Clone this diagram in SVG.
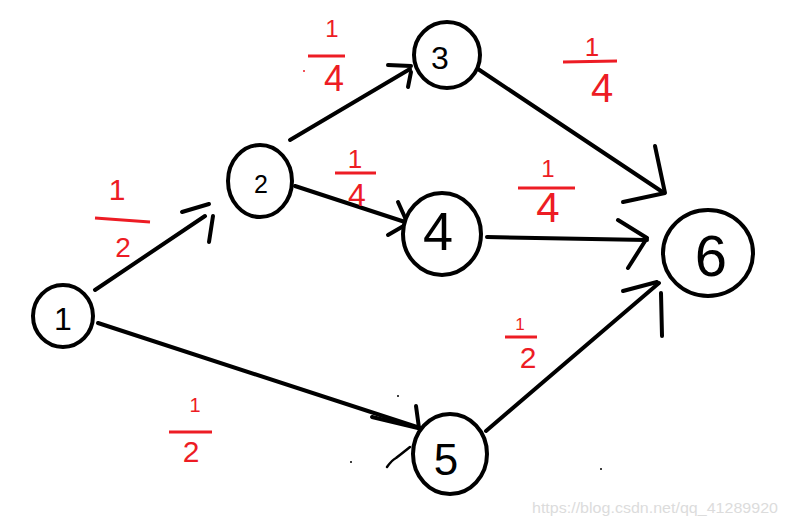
<svg xmlns="http://www.w3.org/2000/svg" width="785" height="524" viewBox="0 0 785 524">
<style>
.edge{fill:none;stroke:#000;stroke-width:4;stroke-linecap:round;stroke-linejoin:round}
.thin{fill:none;stroke:#000;stroke-width:2.5;stroke-linecap:round;stroke-linejoin:round}
.node ellipse{fill:#fff;stroke:#000;stroke-width:4}
.num{font-family:"Liberation Sans",sans-serif;fill:#000;text-anchor:middle}
.lbl{font-family:"Liberation Sans",sans-serif;fill:#ed1c24;text-anchor:middle}
.bar{stroke:#ed1c24;stroke-width:3;stroke-linecap:butt}
.wm{font-family:"Liberation Sans",sans-serif;fill:#dcdcdc;font-size:14px}
</style>
<rect width="785" height="524" fill="#fff"/>
<g id="connectors">
  <!-- 1 -> 2 -->
  <path class="edge" d="M95,290 L205,216"/>
  <path class="edge" d="M182,212 L209,204"/>
  <path class="edge" d="M213,216 L209,242"/>
  <!-- 2 -> 3 -->
  <path class="edge" d="M290,140 L410,69"/>
  <path class="edge" d="M388,65 L411,66"/>
  <path class="edge" d="M408,87 L411,72"/>
  <!-- 2 -> 4 -->
  <path class="edge" d="M295,186 L405,222"/>
  <path class="edge" d="M398,202 L407,222"/>
  <path class="edge" d="M388,235 L407,224"/>
  <!-- 3 -> 6 -->
  <path class="edge" d="M478,69 L664,193"/>
  <path class="edge" d="M655,146 L665,193 L623,202"/>
  <!-- 4 -> 6 -->
  <path class="edge" d="M487,237 L647,240"/>
  <path class="edge" d="M618,220 L647,238 L628,268"/>
  <!-- 5 -> 6 -->
  <path class="edge" d="M486,431 L659,283"/>
  <path class="edge" d="M623,291 L657,282"/>
  <path class="edge" d="M661,293 L662,336"/>
  <!-- 1 -> 5 -->
  <path class="edge" d="M98,323 L420,428"/>
  <path class="edge" d="M416,406 L419,428"/>
  <path class="edge" d="M372,417 L418,428"/>
  <path class="thin" d="M387,467 Q392,460 396,458 Q400,455 410,447"/>
</g>
<g id="dots">
  <circle cx="398" cy="396" r="1" fill="#000"/>
  <circle cx="351" cy="462" r="1" fill="#000"/>
  <circle cx="601" cy="469" r="1" fill="#000"/>
  <circle cx="304" cy="71" r="1" fill="#ed1c24"/>
</g>
<g id="node1" class="node"><ellipse cx="63" cy="316" rx="30" ry="31"/><text class="num" x="63" y="330" font-size="32">1</text></g>
<g id="node2" class="node"><ellipse cx="260" cy="181" rx="32" ry="36"/><text class="num" x="261" y="193" font-size="25">2</text></g>
<g id="node3" class="node"><ellipse cx="447" cy="55" rx="33" ry="33"/><text class="num" x="440" y="69" font-size="32">3</text></g>
<g id="node4" class="node"><ellipse cx="442" cy="234" rx="39" ry="41"/><text class="num" x="438" y="250" font-size="54">4</text></g>
<g id="node5" class="node"><ellipse cx="450" cy="454" rx="37" ry="40"/><text class="num" x="446" y="475" font-size="44">5</text></g>
<g id="node6" class="node"><ellipse cx="708" cy="253" rx="45" ry="43"/><text class="num" x="711" y="276" font-size="58">6</text></g>
<g id="labels">
  <g id="label12"><text class="lbl" x="117" y="200" font-size="30">1</text><path class="bar" d="M95,218 L150,222"/><text class="lbl" x="123" y="257" font-size="28">2</text></g>
  <g id="label23"><text class="lbl" x="332" y="37" font-size="24">1</text><path class="bar" d="M308,56 L345,56"/><text class="lbl" x="334" y="91" font-size="36">4</text></g>
  <g id="label24"><text class="lbl" x="355" y="168" font-size="26">1</text><path class="bar" d="M335,173 L376,173"/><text class="lbl" x="357" y="206" font-size="32">4</text></g>
  <g id="label36"><text class="lbl" x="592" y="56" font-size="26">1</text><path class="bar" d="M563,62 L617,61"/><text class="lbl" x="602" y="102" font-size="40">4</text></g>
  <g id="label46"><text class="lbl" x="548" y="177" font-size="24">1</text><path class="bar" d="M518,188 L575,188"/><text class="lbl" x="548" y="222" font-size="42">4</text></g>
  <g id="label56"><text class="lbl" x="520" y="330" font-size="17">1</text><path class="bar" d="M505,337 L537,337"/><text class="lbl" x="528" y="368" font-size="30">2</text></g>
  <g id="label15"><text class="lbl" x="195" y="412" font-size="20">1</text><path class="bar" d="M169,432 L212,432"/><text class="lbl" x="191" y="462" font-size="30">2</text></g>
</g>
<text class="wm" x="532" y="513" textLength="246" lengthAdjust="spacingAndGlyphs">https://blog.csdn.net/qq_41289920</text>
</svg>
